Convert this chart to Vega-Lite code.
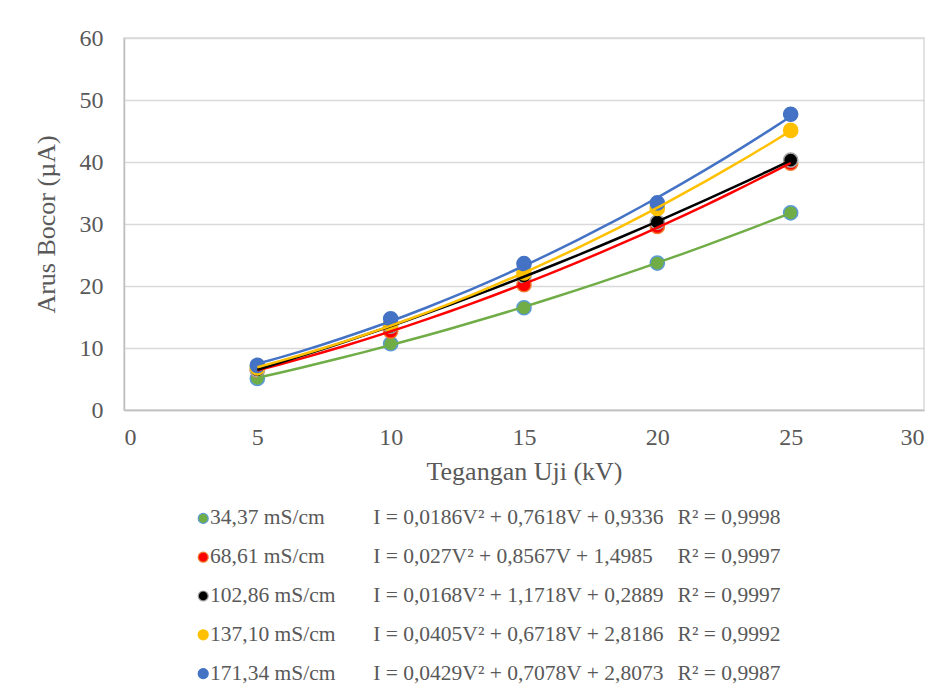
{
  "$schema": "https://vega.github.io/schema/vega-lite/v6.json",
  "background": "white",
  "padding": {"left": 32, "top": 25, "right": 0, "bottom": 0},
  "spacing": 14,
  "config": {
    "font": "Liberation Serif",
    "view": {"stroke": null},
    "axis": {"labelColor": "#595959", "titleColor": "#595959", "titleFontWeight": "normal"}
  },
  "datasets": {
    "points": [
      {"series": "34,37 mS/cm", "V": 5, "I": 5.1},
      {"series": "34,37 mS/cm", "V": 10, "I": 10.7},
      {"series": "34,37 mS/cm", "V": 15, "I": 16.5},
      {"series": "34,37 mS/cm", "V": 20, "I": 23.7},
      {"series": "34,37 mS/cm", "V": 25, "I": 31.8},
      {"series": "68,61 mS/cm", "V": 5, "I": 6.4},
      {"series": "68,61 mS/cm", "V": 10, "I": 12.7},
      {"series": "68,61 mS/cm", "V": 15, "I": 20.2},
      {"series": "68,61 mS/cm", "V": 20, "I": 29.6},
      {"series": "68,61 mS/cm", "V": 25, "I": 39.8},
      {"series": "102,86 mS/cm", "V": 5, "I": 6.5},
      {"series": "102,86 mS/cm", "V": 10, "I": 13.5},
      {"series": "102,86 mS/cm", "V": 15, "I": 21.6},
      {"series": "102,86 mS/cm", "V": 20, "I": 30.3},
      {"series": "102,86 mS/cm", "V": 25, "I": 40.3},
      {"series": "137,10 mS/cm", "V": 5, "I": 6.8},
      {"series": "137,10 mS/cm", "V": 10, "I": 13.8},
      {"series": "137,10 mS/cm", "V": 15, "I": 22.1},
      {"series": "137,10 mS/cm", "V": 20, "I": 32.5},
      {"series": "137,10 mS/cm", "V": 25, "I": 45.1},
      {"series": "171,34 mS/cm", "V": 5, "I": 7.2},
      {"series": "171,34 mS/cm", "V": 10, "I": 14.7},
      {"series": "171,34 mS/cm", "V": 15, "I": 23.6},
      {"series": "171,34 mS/cm", "V": 20, "I": 33.4},
      {"series": "171,34 mS/cm", "V": 25, "I": 47.7}
    ],
    "legend": [
      {"series": "34,37 mS/cm", "eq": "I = 0,0186V² + 0,7618V + 0,9336", "r2": "R² = 0,9998"},
      {"series": "68,61 mS/cm", "eq": "I = 0,027V² + 0,8567V + 1,4985", "r2": "R² = 0,9997"},
      {"series": "102,86 mS/cm", "eq": "I = 0,0168V² + 1,1718V + 0,2889", "r2": "R² = 0,9997"},
      {"series": "137,10 mS/cm", "eq": "I = 0,0405V² + 0,6718V + 2,8186", "r2": "R² = 0,9992"},
      {"series": "171,34 mS/cm", "eq": "I = 0,0429V² + 0,7078V + 2,8073", "r2": "R² = 0,9987"}
    ]
  },
  "vconcat": [
    {
      "width": 800,
      "height": 372,
      "view": {"stroke": "#D9D9D9", "strokeWidth": 1.5},
      "data": {"name": "points"},
      "layer": [
        {
          "mark": {"type": "point", "filled": true, "size": 200, "strokeWidth": 1.5, "opacity": 1},
          "encoding": {
            "x": {
              "field": "V", "type": "quantitative",
              "scale": {"domain": [0, 30], "nice": false},
              "axis": {
                "values": [0, 5, 10, 15, 20, 25, 30], "grid": false, "ticks": false,
                "domainColor": "#BFBFBF", "domainWidth": 1.5,
                "labelFontSize": 24, "labelPadding": 15,
                "title": "Tegangan Uji (kV)", "titleFontSize": 26, "titlePadding": 9
              }
            },
            "y": {
              "field": "I", "type": "quantitative",
              "scale": {"domain": [0, 60], "nice": false},
              "axis": {
                "values": [0, 10, 20, 30, 40, 50, 60], "grid": true, "gridColor": "#D9D9D9", "gridWidth": 1.5,
                "ticks": false, "domainColor": "#BFBFBF", "domainWidth": 1.5,
                "labelFontSize": 24, "labelPadding": 21,
                "title": "Arus Bocor (µA)", "titleFontSize": 26, "titlePadding": 20
              }
            },
            "fill": {
              "field": "series", "type": "nominal", "legend": null,
              "scale": {
                "domain": ["34,37 mS/cm", "68,61 mS/cm", "102,86 mS/cm", "137,10 mS/cm", "171,34 mS/cm"],
                "range": ["#70AD47", "#FF0000", "#000000", "#FFC000", "#4472C4"]
              }
            },
            "stroke": {
              "field": "series", "type": "nominal", "legend": null,
              "scale": {
                "domain": ["34,37 mS/cm", "68,61 mS/cm", "102,86 mS/cm", "137,10 mS/cm", "171,34 mS/cm"],
                "range": ["#5B9BD5", "#ED7D31", "#A5A5A5", "#FFC000", "#4472C4"]
              }
            }
          }
        },
        {
          "transform": [
            {"regression": "I", "on": "V", "groupby": ["series"], "method": "poly", "order": 2}
          ],
          "mark": {"type": "line", "strokeWidth": 2.5},
          "encoding": {
            "x": {"field": "V", "type": "quantitative"},
            "y": {"field": "I", "type": "quantitative"},
            "color": {
              "field": "series", "type": "nominal", "legend": null,
              "scale": {
                "domain": ["34,37 mS/cm", "68,61 mS/cm", "102,86 mS/cm", "137,10 mS/cm", "171,34 mS/cm"],
                "range": ["#70AD47", "#FF0000", "#000000", "#FFC000", "#4472C4"]
              }
            }
          }
        }
      ]
    },
    {
      "width": 800,
      "height": 194,
      "data": {"name": "legend"},
      "encoding": {
        "y": {
          "field": "series", "type": "nominal", "axis": null,
          "scale": {
            "type": "point", "padding": 0.5,
            "domain": ["34,37 mS/cm", "68,61 mS/cm", "102,86 mS/cm", "137,10 mS/cm", "171,34 mS/cm"]
          }
        }
      },
      "layer": [
        {
          "mark": {"type": "point", "filled": true, "size": 100, "strokeWidth": 1.2, "opacity": 1},
          "encoding": {
            "x": {"datum": 0.099, "type": "quantitative", "scale": {"domain": [0, 1], "nice": false}, "axis": null},
            "fill": {
              "field": "series", "type": "nominal", "legend": null,
              "scale": {
                "domain": ["34,37 mS/cm", "68,61 mS/cm", "102,86 mS/cm", "137,10 mS/cm", "171,34 mS/cm"],
                "range": ["#70AD47", "#FF0000", "#000000", "#FFC000", "#4472C4"]
              }
            },
            "stroke": {
              "field": "series", "type": "nominal", "legend": null,
              "scale": {
                "domain": ["34,37 mS/cm", "68,61 mS/cm", "102,86 mS/cm", "137,10 mS/cm", "171,34 mS/cm"],
                "range": ["#5B9BD5", "#ED7D31", "#A5A5A5", "#FFC000", "#4472C4"]
              }
            }
          }
        },
        {
          "mark": {"type": "text", "align": "left", "baseline": "middle", "fontSize": 21.5, "color": "#595959"},
          "encoding": {
            "x": {"datum": 0.1075, "type": "quantitative"},
            "text": {"field": "series"}
          }
        },
        {
          "mark": {"type": "text", "align": "left", "baseline": "middle", "fontSize": 21.5, "color": "#595959"},
          "encoding": {
            "x": {"datum": 0.3115, "type": "quantitative"},
            "text": {"field": "eq"}
          }
        },
        {
          "mark": {"type": "text", "align": "left", "baseline": "middle", "fontSize": 21.5, "color": "#595959"},
          "encoding": {
            "x": {"datum": 0.692, "type": "quantitative"},
            "text": {"field": "r2"}
          }
        }
      ]
    }
  ]
}
